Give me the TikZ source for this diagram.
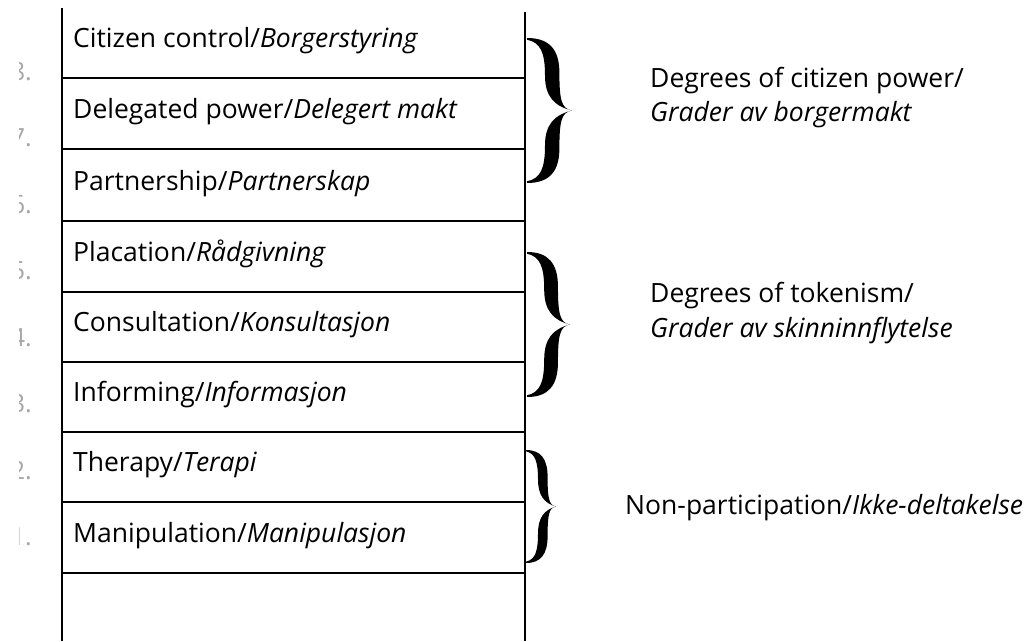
\documentclass[tikz,border=0pt]{standalone}
\usepackage{fontspec}
\setmainfont{Open Sans}
\usetikzlibrary{positioning}

\tikzset{
	rail/.style={line width=1.2pt},
	rung/.style={line width=1.2pt},
	rowtext/.style={anchor=base west, inner sep=0pt, font=\fontsize{26.5}{30}\selectfont},
	grouptext/.style={anchor=base west, inner sep=0pt, font=\fontsize{26.5}{30}\selectfont},
	rungno/.style={anchor=base east, inner sep=0pt, text=black!35, font=\fontsize{25}{28}\selectfont},
	curly/.pic={
		\fill (0,0) .. controls (0.5,0) and (0.72,0.08) .. (0.72,0.24)
			.. controls (0.72,0.42) and (0.76,0.49) .. (1,0.5)
			.. controls (0.6,0.47) and (0.4,0.4) .. (0.4,0.26)
			.. controls (0.4,0.1) and (0.3,0.03) .. (0,0.012) -- cycle;
		\fill (0,1) .. controls (0.5,1) and (0.72,0.92) .. (0.72,0.76)
			.. controls (0.72,0.58) and (0.76,0.51) .. (1,0.5)
			.. controls (0.6,0.53) and (0.4,0.6) .. (0.4,0.74)
			.. controls (0.4,0.9) and (0.3,0.97) .. (0,0.988) -- cycle;
	}
}

\begin{document}
\begin{tikzpicture}[x=1pt, y=-1pt, line join=round]
	\useasboundingbox (0,0) rectangle (1030,641);
	
	% ladder
	\coordinate (railLtop) at (62,8);
	\coordinate (railLbot) at (62,641);
	\coordinate (railRtop) at (525,12);
	\coordinate (railRbot) at (525,641);
	\draw[rail] (railLtop) -- (railLbot);
	\draw[rail] (railRtop) -- (railRbot);
	
	\foreach \en/\no/\y [count=\i] in {Citizen control/Borgerstyring/78,
		Delegated power/Delegert makt/149,
		Partnership/Partnerskap/221,
		Placation/Rådgivning/292,
		Consultation/Konsultasjon/362,
		Informing/Informasjon/432,
		Therapy/Terapi/502,
		Manipulation/Manipulasjon/573}
	{
		\draw[rung] (62,\y) -- (525,\y);
		\node[rowtext] (row\i) at (73,\y-31) {\en/\textit{\no}};
	}
	
	% rung numbers, cut at the margin
	\begin{scope}
		\clip (19,0) rectangle (60,641);
		\foreach \n [count=\i] in {8,...,1}
		\node[rungno] (no\n) at (32,80+66.5*\i-66.5) {\n.};
	\end{scope}
	
	% braces
	\pic[xscale=45, yscale=145] (powerbrace) at (527,38) {curly};
	\pic[xscale=43, yscale=145] (tokenbrace) at (527,252) {curly};
	\pic[xscale=30, yscale=113] (nonbrace) at (526,450) {curly};
	
	\node[grouptext] (powerEn) at (650,87) {Degrees of citizen power/};
	\node[grouptext] (powerNo) at (650,121) {\textit{Grader av borgermakt}};
	\node[grouptext] (tokenEn) at (650,302) {Degrees of tokenism/};
	\node[grouptext] (tokenNo) at (650,337) {\textit{Grader av skinninnflytelse}};
	\node[grouptext] (nonpart) at (625,514) {Non-participation/\textit{Ikke-deltakelse}};
	
\end{tikzpicture}
\end{document}
